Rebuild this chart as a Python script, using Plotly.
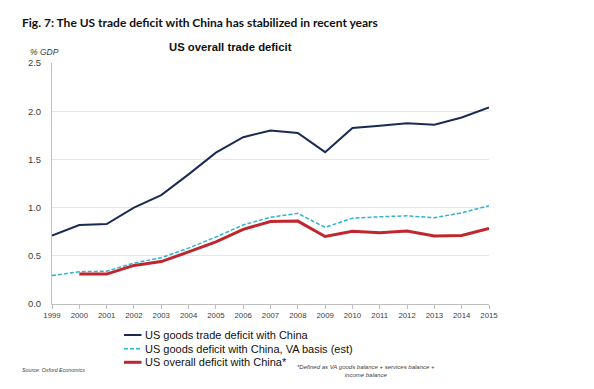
import plotly.graph_objects as go

years = list(range(1999, 2016))
goods_deficit = [0.71, 0.82, 0.83, 1.00, 1.13, 1.345, 1.57, 1.73, 1.80, 1.775, 1.575,
                 1.825, 1.85, 1.875, 1.86, 1.935, 2.04]
va_deficit = [0.295, 0.335, 0.34, 0.425, 0.48, 0.58, 0.695, 0.82, 0.90, 0.94, 0.795,
              0.89, 0.905, 0.915, 0.895, 0.945, 1.02]
overall_years = list(range(2000, 2016))
overall_deficit = [0.31, 0.31, 0.40, 0.44, 0.54, 0.645, 0.775, 0.855, 0.86, 0.70,
                   0.755, 0.74, 0.757, 0.705, 0.71, 0.785]

names = ["US goods trade deficit with China",
         "US goods deficit with China, VA basis (est)",
         "US overall deficit with China*"]
colors = ["#1b2a52", "#2fb3cf", "#c0262d"]
widths = [2, 1.5, 3]
dashes = ["solid", "4px,2px", "solid"]

fig = go.Figure()
for xs, ys, nm, c, w, d in zip([years, years, overall_years],
                               [goods_deficit, va_deficit, overall_deficit],
                               names, colors, widths, dashes):
    fig.add_trace(go.Scatter(x=xs, y=ys, mode="lines", name=nm, showlegend=False,
                             line=dict(color=c, width=w, dash=d)))

L, R, T, B = 52, 489, 63, 304
W, H = R - L, B - T
def px(x): return (x - L) / W
def py(y): return (B - y) / H

font = "Liberation Sans, Arial, sans-serif"

# manual legend (compact, like the reference)
shapes = []
annotations = []
legend_y = [335, 348.7, 362.3]
for nm, c, w, d, yy in zip(names, colors, widths, dashes, legend_y):
    shapes.append(dict(type="line", xref="paper", yref="paper", x0=px(124), x1=px(141.5),
                       y0=py(yy), y1=py(yy), line=dict(color=c, width=w, dash=d)))
    annotations.append(dict(text=nm, x=px(142.5), y=py(yy), xref="paper", yref="paper",
                            xanchor="left", yanchor="middle", showarrow=False,
                            font=dict(family=font, size=11, color="#111111")))

annotations += [
    dict(text="<b>Fig. 7: The US trade deficit with China has stabilized in recent years</b>",
         x=px(20), y=py(23), xref="paper", yref="paper", xanchor="left", yanchor="middle",
         showarrow=False, font=dict(family="Lato, sans-serif", size=12, color="#111111")),
    dict(text="<b>US overall trade deficit</b>", x=px(230.5), y=py(47), xref="paper", yref="paper",
         xanchor="center", yanchor="middle", showarrow=False,
         font=dict(family=font, size=11.3, color="#111111")),
    dict(text="<i>% GDP</i>", x=px(28), y=py(52), xref="paper", yref="paper",
         xanchor="left", yanchor="middle", showarrow=False,
         font=dict(family=font, size=8.5, color="#404040")),
    dict(text="<i>Source: Oxford Economics</i>", x=px(20), y=py(370), xref="paper", yref="paper",
         xanchor="left", yanchor="middle", showarrow=False,
         font=dict(family=font, size=5.3, color="#404040")),
    dict(text="<i>*Defined as VA goods balance + services balance +<br>income balance</i>",
         x=px(366), y=py(371), xref="paper", yref="paper", xanchor="center", yanchor="middle",
         align="center", showarrow=False,
         font=dict(family=font, size=6, color="#404040")),
]

fig.update_layout(
    width=594, height=389,
    margin=dict(l=L, r=594 - R, t=T, b=389 - B, pad=0),
    paper_bgcolor="white", plot_bgcolor="white",
    font=dict(family=font, color="#404040"),
    showlegend=False,
    xaxis=dict(range=[1999, 2015], tickvals=years, ticktext=[str(y) for y in years],
               showgrid=False, zeroline=False, showline=True, linecolor="#bfbfbf",
               linewidth=1, ticks="outside", ticklen=4, tickcolor="#bfbfbf",
               tickfont=dict(size=7.8, color="#404040")),
    yaxis=dict(range=[0, 2.5], dtick=0.5, tickformat=".1f", showgrid=True,
               gridcolor="#e6e6e6", zeroline=False, showline=True, linecolor="#bfbfbf",
               linewidth=1, ticks="", ticklabelstandoff=8,
               tickfont=dict(size=9.5, color="#404040")),
    shapes=shapes,
    annotations=annotations,
)

fig.write_html("out.html", config={"displayModeBar": False},
               post_script="document.body.style.margin='0';")
